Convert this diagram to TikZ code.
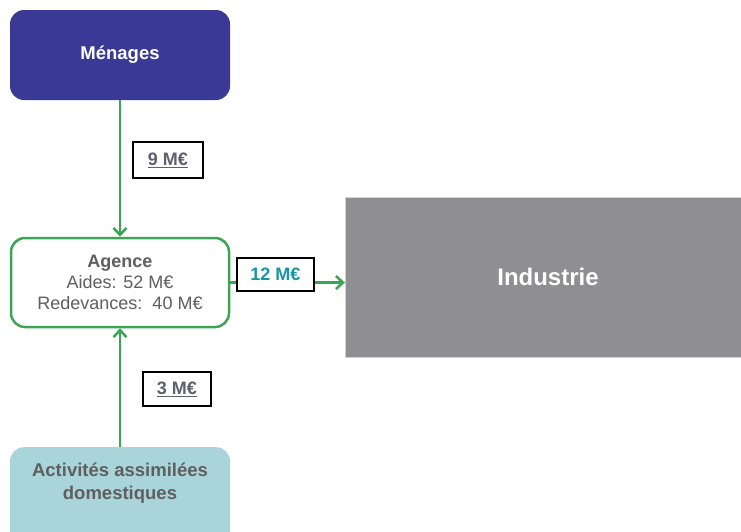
\documentclass[tikz,border=0pt]{standalone}
\usepackage{fontspec}
\setmainfont{Liberation Sans}
\definecolor{menagesblue}{RGB}{58,58,150}
\definecolor{agencegreen}{RGB}{60,165,85}
\definecolor{activitesteal}{RGB}{168,212,218}
\definecolor{industriegray}{RGB}{142,142,147}
\definecolor{labelgray}{RGB}{95,95,110}
\definecolor{labelteal}{RGB}{25,150,165}
\definecolor{textgray}{RGB}{95,95,95}
\usetikzlibrary{arrows.meta,positioning,calc}

\begin{document}
\begin{tikzpicture}[x=1pt,y=-1pt,
    box/.style={rounded corners=14pt, minimum width=220pt, inner sep=0pt, align=center},
    flow/.style={agencegreen, line width=2.5pt, -{Straight Barb[length=7pt,width=13pt,line width=2.5pt]}},
    amount/.style={draw=black, line width=2.5pt, fill=white, text=labelgray, inner sep=0pt,
      font=\fontsize{18}{21}\selectfont\bfseries}]
    \useasboundingbox (0,0) rectangle (741,531);
    \clip (0,0) rectangle (741,531);

    % boxes
    \node[box, fill=menagesblue, minimum height=90pt, text=white,
      font=\fontsize{18.5}{22}\selectfont\bfseries] (menages) at (120,55) {Ménages};
    \node[box, draw=agencegreen, line width=2.5pt, fill=white, minimum width=218pt, minimum height=89pt,
      text=textgray, font=\fontsize{18}{21}\selectfont] (agence) at (120,282.5)
      {\textbf{Agence}\\Aides: 52 M€\\Redevances:\ \ 40 M€};
    \node[box, fill=activitesteal, minimum height=100pt, anchor=north,
      label={[anchor=north, yshift=-12pt, align=center, text=textgray,
        font=\fontsize{18.5}{23}\selectfont\bfseries]north:{Activités assimilées\\domestiques}}]
      (activites) at (120,447) {};
    \node[fill=industriegray, draw=gray!35, minimum width=406pt, minimum height=160pt, text=white,
      font=\fontsize{24}{28}\selectfont\bfseries] (industrie) at (548,277) {Industrie};

    % flows
    \draw[flow] (menages.south) -- (agence.north);
    \draw[flow] (activites.north) -- (agence.south);
    \draw[flow] (agence.east) -- (agence.east -| industrie.west);

    % amounts
    \node[amount, minimum width=70pt, minimum height=36pt] (montantmenages) at (168,160) {\underline{9 M€}};
    \node[amount, minimum width=77pt, minimum height=33pt, text=labelteal] (montantindustrie) at (275.5,274.5) {12 M€};
    \node[amount, minimum width=68pt, minimum height=34pt] (montantactivites) at (177,389) {\underline{3 M€}};
\end{tikzpicture}
\end{document}
